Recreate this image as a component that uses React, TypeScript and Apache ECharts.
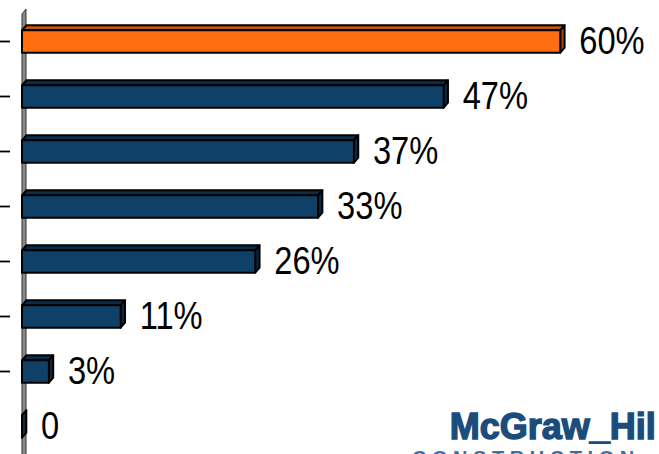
import React, { useEffect, useRef } from "react";
import * as echarts from "echarts";

const categories = ["Item 1", "Item 2", "Item 3", "Item 4", "Item 5", "Item 6", "Item 7", "Item 8"];
const values = [60, 47, 37, 33, 26, 11, 3, 0];
const valueLabels = ["60%", "47%", "37%", "33%", "26%", "11%", "3%", "0"];
const tickShown = [true, true, true, true, true, true, true, false];
const highlightIndex = 0;

const ORANGE = { front: "#FF6F10", top: "#C2560C", side: "#A8480A" };
const NAVY = { front: "#0E4068", top: "#0A2D4A", side: "#092A45" };

export default function App() {
  const ref = useRef<HTMLDivElement>(null);

  useEffect(() => {
    if (!ref.current) return;
    const chart = echarts.init(ref.current, null, { renderer: "svg" });
    const dx = 4.3;
    const dy = 5;
    const option: any = {
      animation: false,
      backgroundColor: "#ffffff",
      grid: { left: 22, right: 9, top: 14, height: 446 },
      xAxis: { type: "value", min: 0, max: 70, show: false },
      yAxis: {
        type: "category",
        data: categories,
        inverse: true,
        axisLine: { show: false },
        axisLabel: { show: false },
        splitLine: { show: false },
        axisTick: { show: false },
      },
      graphic: [
        {
          type: "polygon",
          z: 0,
          shape: { points: [[22, 14], [26, 9], [26, 460], [22, 460]] },
          style: { fill: "#8a8a8a", stroke: "#333333", lineWidth: 1 },
        },
        {
          type: "text",
          left: 449,
          top: 408,
          z: 10,
          style: {
            text: "McGraw_Hil",
            fontFamily: "'Liberation Sans', Arial, sans-serif",
            fontWeight: 900,
            fontSize: 36,
            fill: "#1B4C7C",
            stroke: "#1B4C7C",
            lineWidth: 1.4,
          },
        },
        {
          type: "text",
          left: 412,
          top: 448,
          z: 10,
          style: {
            text: "C O N S T R U C T I O N",
            fontFamily: "'Liberation Sans', Arial, sans-serif",
            fontWeight: 700,
            fontSize: 20,
            fill: "#3F6E9F",
          },
        },
      ],
      series: [
        {
          type: "custom",
          z: 5,
          encode: { x: 0, y: 1 },
          data: values.map((v, i) => [v, i]),
          renderItem: (params: any, api: any) => {
            const v = api.value(0);
            const c = api.value(1);
            const start = api.coord([0, c]);
            const end = api.coord([v, c]);
            const band = api.size([0, 1])[1];
            const h = band * 0.405;
            const x0 = start[0];
            const x1 = end[0];
            const yc = start[1];
            const yTop = yc - h / 2;
            const yBot = yc + h / 2;
            const col = c === highlightIndex ? ORANGE : NAVY;
            const stroke = { stroke: "#000", lineWidth: 2, lineJoin: "round" };
            const children: any[] = [
              {
                type: "polygon",
                shape: { points: [[x0, yTop], [x0 + dx, yTop - dy], [x1 + dx, yTop - dy], [x1, yTop]] },
                style: { fill: col.top, ...stroke },
              },
              {
                type: "polygon",
                shape: { points: [[x1, yTop], [x1 + dx, yTop - dy], [x1 + dx, yBot - dy], [x1, yBot]] },
                style: { fill: col.side, ...stroke },
              },
              {
                type: "rect",
                shape: { x: x0, y: yTop, width: x1 - x0, height: h },
                style: { fill: col.front, ...stroke },
              },
              {
                type: "text",
                x: x1 + 19,
                y: yc,
                scaleX: 0.86,
                style: {
                  text: valueLabels[c],
                  fontFamily: "'Liberation Sans', Arial, sans-serif",
                  fontSize: 38,
                  fill: "#000",
                  align: "left",
                  verticalAlign: "middle",
                },
              },
            ];
            if (tickShown[c]) {
              children.push({
                type: "line",
                shape: { x1: 0, y1: yc, x2: 10, y2: yc },
                style: { stroke: "#000", lineWidth: 1.8 },
              });
            }
            return { type: "group", children };
          },
        },
      ],
    };
    chart.setOption(option);
    return () => chart.dispose();
  }, []);

  return (
    <div
      ref={ref}
      style={{ position: "fixed", left: 0, top: 0, width: 659, height: 454, background: "#fff" }}
    />
  );
}
